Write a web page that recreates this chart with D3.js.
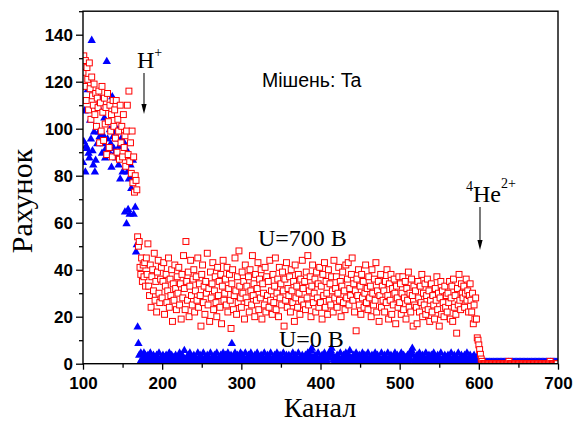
<!DOCTYPE html>
<html>
<head>
<meta charset="utf-8">
<script src="https://cdn.jsdelivr.net/npm/d3@7"></script>
<style>
  body { margin: 0; background: #fff; }
  svg { display: block; }
</style>
</head>
<body>
<svg id="chart" width="574" height="423"></svg>
<script>
// Spectrum: counts per channel, starting at channel 100, one value per channel.
const firstChannel = 100;

// U = 700 B (red open squares)
const countsU700 = [
  124,131,118,129,112,126,121,108,128,117,104,122,114,110,119,106,115,101,113,109,
  116,94,111,99,118,107,95,113,102,109,89,115,103,92,110,99,106,88,112,101,
  108,96,112,90,104,99,87,110,94,101,88,106,92,97,84,99,110,89,116,86,
  94,81,99,77,88,73,80,78,74,54,50,52,41,38,45,35,42,37,43,33,
  45,38,51,33,29,42,24,37,40,31,47,27,35,22,39,44,30,26,36,41,
  28,35,43,21,33,38,26,31,45,24,36,29,40,18,34,27,42,32,23,37,
  30,41,25,34,19,38,28,46,32,23,52,35,27,39,20,33,44,29,25,36,
  40,22,31,37,27,45,24,34,29,16,38,42,26,33,21,35,30,47,25,32,
  18,39,28,34,43,23,31,37,26,20,41,29,35,24,38,17,33,44,27,30,
  36,25,41,22,32,38,27,15,34,40,23,29,45,31,21,37,26,48,33,28,
  24,39,30,35,19,42,28,33,26,37,22,40,31,25,46,29,34,20,38,27,
  32,43,23,36,28,40,19,34,30,25,41,22,37,29,35,24,44,27,31,21,
  38,26,33,45,23,30,36,20,41,28,34,25,39,31,16,36,27,43,24,32,
  29,37,22,40,31,26,35,18,42,28,33,24,38,30,21,36,27,44,32,25,
  35,23,39,28,46,25,31,37,20,33,42,26,30,36,22,39,28,34,24,41,
  26,33,19,38,29,43,24,35,30,21,40,27,34,25,37,31,22,44,28,32,
  37,24,30,41,27,35,20,33,39,26,31,23,42,28,36,43,25,32,29,38,
  45,27,34,22,31,14,36,29,40,25,33,21,38,28,35,24,30,42,26,32,
  23,37,28,33,20,40,30,25,36,27,43,22,31,35,18,29,38,24,33,27,
  31,22,35,26,40,29,19,34,27,38,21,32,25,36,30,17,33,28,24,37,
  26,34,21,30,37,23,28,35,19,32,27,39,24,30,22,36,29,16,33,25,
  31,24,17,35,28,22,33,26,38,20,30,25,34,21,29,36,23,31,18,27,
  34,22,29,25,19,32,27,37,23,30,16,28,35,21,31,26,20,33,24,29,
  22,30,26,35,19,28,33,18,36,24,29,21,13,32,25,38,27,23,34,30,
  28,33,24,30,36,27,31,22,29,34,27,22,30,17,25,19,28,19,11,10,
  8,6,4,2,1,0,0,0,0,0,0,0,0,0,0,0,0,0,0,0,
  0,0,0,0,0,0,0,0,0,0,0,0,0,0,0,0,0,0,1,0,
  0,0,0,0,0,0,0,0,0,0,0,0,0,0,0,0,0,0,0,0,
  0,0,0,0,0,0,0,0,0,0,0,0,0,0,0,0,0,0,0,0,
  0,0,0,0,0,0,0,0,0,0,1,0,0,0,0,0,0,0,0,0
];

// U = 0 B (blue filled triangles)
const countsU0 = [
  86,95,108,82,93,92,117,90,88,104,96,138,91,85,99,82,87,101,94,110,
  99,97,113,95,90,98,94,105,88,92,129,96,91,89,100,94,84,114,97,92,
  90,99,88,96,100,85,93,79,96,93,82,95,94,65,92,60,82,66,79,64,
  85,75,80,87,64,78,67,48,51,16,9,4,1,5,2,0,3,5,1,4,
  3,1,4,2,0,5,1,3,2,4,1,3,0,4,2,1,5,2,0,3,
  2,4,1,3,0,4,2,1,3,5,1,2,4,0,3,2,1,4,2,3,
  1,3,5,0,2,4,1,3,6,2,0,3,1,4,2,5,1,3,0,2,
  4,1,3,2,0,5,2,1,4,3,0,2,5,1,3,2,0,4,1,3,
  2,5,1,3,0,2,4,1,3,5,0,2,3,1,4,2,0,5,1,3,
  4,1,2,5,0,3,1,4,9,2,0,3,5,1,2,4,0,3,1,5,
  2,4,0,3,1,5,2,1,3,4,0,2,5,1,3,2,0,4,1,3,
  5,1,3,0,2,4,1,3,2,5,0,3,1,4,2,0,3,5,1,2,
  3,0,4,2,1,5,3,0,2,4,1,3,2,5,0,3,1,4,2,0,
  4,2,1,3,0,5,2,1,4,3,0,2,5,1,3,2,0,4,3,1,
  2,4,0,3,5,1,2,4,6,7,3,1,0,4,2,1,3,5,0,2,
  3,1,4,2,0,5,1,3,2,4,0,3,5,6,7,4,2,1,3,0,
  2,4,1,3,0,5,2,1,3,4,0,2,5,1,3,2,4,6,1,0,
  3,1,4,2,0,5,1,3,2,4,0,3,1,5,2,0,4,1,3,2,
  5,1,3,0,2,4,1,3,2,5,0,2,4,1,3,0,2,5,1,3,
  2,4,0,3,1,5,2,0,3,4,1,2,0,3,5,2,1,4,0,3,
  1,3,5,0,2,4,1,3,0,2,4,1,3,5,2,6,7,4,1,0,
  3,1,4,2,0,5,1,3,2,4,0,3,1,5,2,0,3,4,1,2,
  4,0,2,5,1,3,2,0,4,1,3,2,5,0,2,3,1,4,0,3,
  2,4,1,3,0,5,2,1,3,4,0,2,3,1,5,2,0,3,4,1,
  3,0,4,2,1,5,2,0,3,4,1,2,3,0,4,2,1,3,2,0,
  1,1,1,1,1,1,1,1,1,1,1,1,1,1,1,1,1,1,1,1,
  1,1,1,1,1,1,1,1,1,1,1,1,1,1,1,1,1,1,1,1,
  1,1,1,1,1,1,1,1,1,1,1,1,1,1,1,1,1,1,1,1,
  1,1,1,1,1,1,1,1,1,1,1,1,1,1,1,1,1,1,1,1,
  1,1,1,1,1,1,1,1,1,1,1,1,1,1,1,1,1,1,1,1
];

const xTicks = [100, 200, 300, 400, 500, 600, 700];
const xMinorTicks = [150, 250, 350, 450, 550, 650];
const yTicks = [0, 20, 40, 60, 80, 100, 120, 140];
const yMinorTicks = [10, 30, 50, 70, 90, 110, 130, 150];

const svg = d3.select("#chart");
const plot = { left: 83, right: 558, top: 11.2, bottom: 363.7 };

const x = d3.scaleLinear().domain([100, 700]).range([plot.left, plot.right]);
const y = d3.scaleLinear().domain([0, 150]).range([plot.bottom, plot.top]);

const red = countsU700.map((v, i) => ({ ch: firstChannel + i, v }));
const blue = countsU0.map((v, i) => ({ ch: firstChannel + i, v }));

svg.append("defs").append("clipPath").attr("id", "plotClip")
  .append("rect")
  .attr("x", plot.left).attr("y", plot.top)
  .attr("width", plot.right - plot.left).attr("height", plot.bottom - plot.top);

const marks = svg.append("g").attr("clip-path", "url(#plotClip)");

// U = 0 B: filled triangles
const tri = "M0,-3.8L4.2,3.5L-4.2,3.5Z";
marks.append("g").selectAll("path").data(blue).join("path")
  .attr("d", tri)
  .attr("transform", d => `translate(${x(d.ch)},${y(d.v)})`)
  .attr("fill", "#0000ff");

// U = 700 B: open squares
const sq = 5.9;
marks.append("g").selectAll("rect").data(red).join("rect")
  .attr("x", d => x(d.ch) - sq / 2)
  .attr("y", d => y(d.v) - sq / 2)
  .attr("width", sq).attr("height", sq)
  .attr("fill", "#fff")
  .attr("stroke", "#ff0000")
  .attr("stroke-width", 1);

// Frame
svg.append("rect")
  .attr("x", plot.left).attr("y", plot.top)
  .attr("width", plot.right - plot.left).attr("height", plot.bottom - plot.top)
  .attr("fill", "none").attr("stroke", "#000").attr("stroke-width", 1.4);

const tickFont = "'Liberation Sans', Arial, sans-serif";

// X axis
const gx = svg.append("g").attr("transform", `translate(0,${plot.bottom})`);
gx.call(d3.axisBottom(x).tickValues(xTicks).tickSize(6).tickSizeOuter(0).tickPadding(7).tickFormat(d3.format("d")));
gx.append("g").call(d3.axisBottom(x).tickValues(xMinorTicks).tickSize(4).tickSizeOuter(0).tickFormat(""));
gx.selectAll(".domain").remove();

// Y axis
const gy = svg.append("g").attr("transform", `translate(${plot.left},0)`);
gy.call(d3.axisLeft(y).tickValues(yTicks).tickSize(7).tickSizeOuter(0).tickPadding(3).tickFormat(d3.format("d")));
gy.append("g").call(d3.axisLeft(y).tickValues(yMinorTicks).tickSize(4).tickSizeOuter(0).tickFormat(""));
gy.selectAll(".domain").remove();

svg.selectAll(".tick line").attr("stroke", "#000").attr("stroke-width", 1.3);
svg.selectAll(".tick text")
  .attr("font-family", tickFont)
  .attr("font-weight", "bold")
  .attr("font-size", 17)
  .attr("fill", "#000");

const serif = "'Liberation Serif', 'Times New Roman', serif";

// Axis titles
svg.append("text")
  .attr("x", 320).attr("y", 417)
  .attr("text-anchor", "middle")
  .attr("font-family", serif).attr("font-size", 28)
  .text("Канал");

svg.append("text")
  .attr("transform", "translate(32,201) rotate(-90)")
  .attr("text-anchor", "middle")
  .attr("font-family", serif).attr("font-size", 30)
  .text("Рахунок");

// Target label
svg.append("text")
  .attr("x", 262).attr("y", 87)
  .attr("font-family", tickFont).attr("font-size", 19.5)
  .text("Мішень: Ta");

// Series labels
svg.append("text")
  .attr("x", 258).attr("y", 246)
  .attr("font-family", serif).attr("font-size", 24)
  .text("U=700 B");

svg.append("text")
  .attr("x", 279).attr("y", 347)
  .attr("font-family", serif).attr("font-size", 24)
  .text("U=0 B");

// Peak markers
const hLabel = svg.append("text")
  .attr("x", 137).attr("y", 68)
  .attr("font-family", serif).attr("font-size", 24);
hLabel.append("tspan").text("H");
hLabel.append("tspan").attr("font-size", 14).attr("dy", -11).text("+");

const heLabel = svg.append("text")
  .attr("x", 466).attr("y", 202)
  .attr("font-family", serif).attr("font-size", 24);
heLabel.append("tspan").attr("font-size", 14).attr("dy", -11).text("4");
heLabel.append("tspan").attr("dy", 11).text("He");
heLabel.append("tspan").attr("font-size", 14).attr("dy", -14).text("2+");

function arrow(xc, y1, y2) {
  svg.append("line")
    .attr("x1", xc).attr("x2", xc).attr("y1", y1).attr("y2", y2 - 8)
    .attr("stroke", "#222").attr("stroke-width", 1.2);
  svg.append("path")
    .attr("d", `M${xc - 2.6},${y2 - 10}L${xc + 2.6},${y2 - 10}L${xc},${y2}Z`)
    .attr("fill", "#000");
}
arrow(144, 73, 114);
arrow(480, 207, 250);
</script>
</body>
</html>
